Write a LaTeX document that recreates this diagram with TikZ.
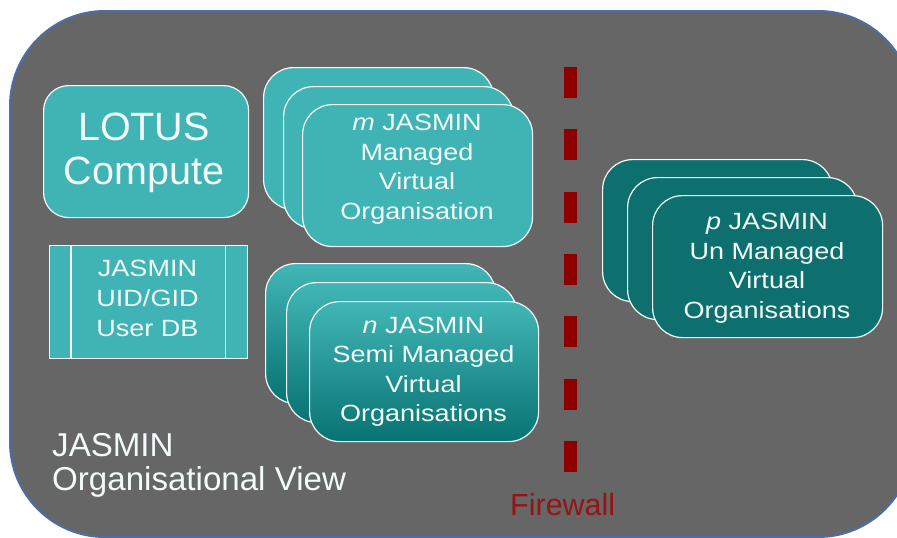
\documentclass[tikz,border=0pt]{standalone}
\usepackage{fontspec}
\setmainfont{Liberation Sans}
\newfontfamily\widesans[FakeStretch=1.15]{Liberation Sans}
\definecolor{bggray}{RGB}{102,102,102}
\definecolor{bordblue}{RGB}{74,110,168}
\definecolor{lteal}{RGB}{64,180,180}
\definecolor{dteal}{RGB}{13,112,110}
\definecolor{gradtop}{RGB}{66,182,182}
\definecolor{gradbot}{RGB}{8,114,114}
\definecolor{fwred}{RGB}{140,0,0}
\definecolor{txtred}{RGB}{150,20,20}
\definecolor{txtw}{RGB}{242,250,250}
\begin{document}
\begin{tikzpicture}[x=1pt,y=-1pt,
  vobox/.style={draw=txtw, line width=1.2pt, rounded corners=30pt,
    minimum width=230pt, minimum height=142pt, anchor=north west, inner sep=0pt},
  mbox/.style={vobox, fill=lteal},
  nbox/.style={vobox, minimum height=140pt, top color=gradtop, bottom color=gradbot},
  pbox/.style={vobox, fill=dteal},
  smalltxt/.style={text=txtw, align=center, inner sep=0pt,
    font=\widesans\fontsize{23.5}{29.5}\selectfont},
  bigtxt/.style={text=txtw, inner sep=0pt, font=\fontsize{33.1}{34.5}\selectfont}
]
\useasboundingbox (0,0) rectangle (897,538);
\clip (0,0) rectangle (897,538);
\fill[white] (0,0) rectangle (897,538);
% outer panel
\draw[fill=bggray, draw=bordblue, line width=2pt, rounded corners=95pt] (10,11) rectangle (913,537);

% LOTUS box
\node[draw=txtw, fill=lteal, line width=1.2pt, rounded corners=25pt,
  minimum width=205pt, minimum height=132pt, anchor=north west, inner sep=0pt] (lotus) at (43,85) {};
\node[text=txtw, align=center, inner sep=0pt, font=\fontsize{39.5}{44}\selectfont] (lotustxt) at (144,153) {LOTUS\\Compute};

% UID box
\node[draw=txtw, fill=lteal, line width=1.2pt, minimum width=198pt, minimum height=113pt,
  anchor=north west, inner sep=0pt] (uid) at (49,245) {};
\draw[txtw, line width=1.2pt] ([xshift=22pt]uid.north west) -- ([xshift=22pt]uid.south west);
\draw[txtw, line width=1.2pt] ([xshift=-23pt]uid.north east) -- ([xshift=-23pt]uid.south east);
\node[smalltxt, font=\widesans\fontsize{23.5}{30}\selectfont] (uidtxt) at (147.5,298.5) {JASMIN\\UID/GID\\User DB};

% m stack
\node[mbox] (m1) at (263,67) {};
\node[mbox] (m2) at (283,86) {};
\node[mbox] (m3) at (302,104) {};
\node[smalltxt] (mtxt) at (417,169) {\textit{m} JASMIN\\Managed\\Virtual\\Organisation};

% n stack
\node[nbox] (n1) at (265,263) {};
\node[nbox] (n2) at (286,282) {};
\node[nbox, minimum width=229pt] (n3) at (309,301) {};
\node[smalltxt] (ntxt) at (423.5,371.5) {\textit{n} JASMIN\\Semi Managed\\Virtual\\Organisations};

% p stack
\node[pbox] (p1) at (602,159) {};
\node[pbox] (p2) at (627,177) {};
\node[pbox] (p3) at (652,195) {};
\node[smalltxt] (ptxt) at (767,268) {\textit{p} JASMIN\\Un Managed\\Virtual\\Organisations};

% firewall
\coordinate (fwtop) at (570,67);
\coordinate (fwbot) at (570,472);
\draw[fwred, line width=13pt, dash pattern=on 31pt off 31.33pt] (fwtop) -- (fwbot);
\node[text=txtred, inner sep=0pt, anchor=base west, font=\fontsize{30.5}{34}\selectfont] (fwtxt) at (510,515) {Firewall};

% title
\node[bigtxt, align=left, anchor=north west] (title) at (52,433) {JASMIN\\Organisational View};
\end{tikzpicture}
\end{document}
